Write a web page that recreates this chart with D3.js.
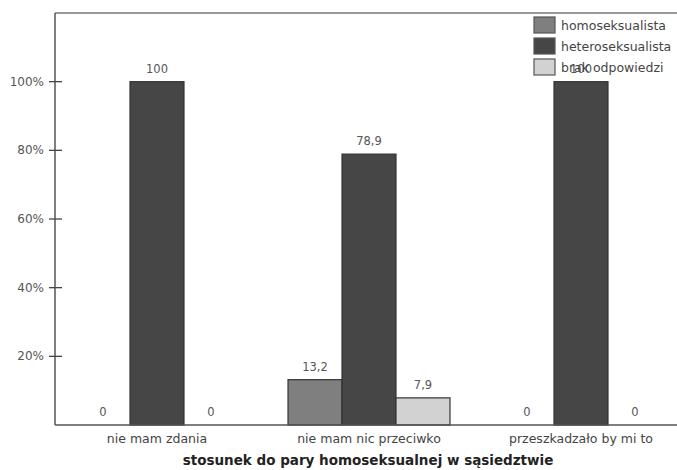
<!DOCTYPE html>
<html><head><meta charset="utf-8">
<script src="https://cdn.jsdelivr.net/npm/d3@7/dist/d3.min.js"></script>
<style>body{margin:0;background:#fff}svg{display:block}text{font-family:"DejaVu Sans",sans-serif}</style>
</head><body><svg id="c" width="677" height="470"></svg>
<script>
const categories = ["nie mam zdania", "nie mam nic przeciwko", "przeszkadzało by mi to"];
const seriesNames = ["homoseksualista", "heteroseksualista", "brak odpowiedzi"];
const homo = [0, 13.2, 0];
const hetero = [100, 78.9, 100];
const brak = [0, 7.9, 0];
const yTicks = [20, 40, 60, 80, 100];
const xTitle = "stosunek do pary homoseksualnej w sąsiedztwie";
const colors = ["#7f7f7f", "#464646", "#d2d2d2"];

const series = [homo, hetero, brak];
const svg = d3.select("#c");
const L = 55, T = 13, R = 677, B = 425;
const y = d3.scaleLinear().domain([0, 120]).range([B, T]);
const x0 = d3.scaleBand().domain(categories).range([51, 687]).paddingInner(0.236).paddingOuter(0.118);
const x1 = d3.scaleBand().domain(seriesNames).range([0, x0.bandwidth()]);
const fmt = v => String(v).replace(".", ",");

// bars
categories.forEach((c, ci) => {
  const g = svg.append("g").attr("transform", `translate(${x0(c)},0)`);
  seriesNames.forEach((s, si) => {
    const v = series[si][ci];
    if (v > 0) {
      g.append("rect").attr("x", x1(s)).attr("y", y(v)).attr("width", x1.bandwidth()).attr("height", y(0) - y(v))
        .attr("fill", colors[si]).attr("stroke", "#333").attr("stroke-width", 1.2);
    }
    g.append("text").attr("x", x1(s) + x1.bandwidth() / 2).attr("y", y(v) - 9)
      .attr("text-anchor", "middle").attr("font-size", 11.5).attr("fill", "#555").text(fmt(v));
  });
});

// frame
svg.append("line").attr("x1", L).attr("x2", R).attr("y1", T).attr("y2", T).attr("stroke", "#777").attr("stroke-width", 1.5);
svg.append("line").attr("x1", L).attr("x2", L).attr("y1", T).attr("y2", B).attr("stroke", "#555").attr("stroke-width", 1.5);
svg.append("line").attr("x1", L).attr("x2", R).attr("y1", B).attr("y2", B).attr("stroke", "#555").attr("stroke-width", 1.5);

// y axis
const ya = svg.append("g");
yTicks.forEach(t => {
  ya.append("line").attr("x1", L - 6).attr("x2", L + 7).attr("y1", y(t)).attr("y2", y(t)).attr("stroke", "#444").attr("stroke-width", 1.3);
  ya.append("text").attr("x", L - 11).attr("y", y(t) + 4).attr("text-anchor", "end").attr("font-size", 12).attr("fill", "#555").text(t + "%");
});

// x labels
categories.forEach(c => {
  svg.append("text").attr("x", x0(c) + x0.bandwidth() / 2).attr("y", 443).attr("text-anchor", "middle")
    .attr("font-size", 12.5).attr("fill", "#444").text(c);
});
svg.append("text").attr("x", 368).attr("y", 465).attr("text-anchor", "middle").attr("font-size", 13.5)
  .attr("font-weight", "bold").attr("fill", "#222").text(xTitle);

// legend
seriesNames.forEach((s, i) => {
  svg.append("rect").attr("x", 534).attr("y", 17 + i * 21).attr("width", 21).attr("height", 16)
    .attr("fill", colors[i]).attr("stroke", "#555").attr("stroke-width", 1.2);
  svg.append("text").attr("x", 561).attr("y", 30 + i * 21).attr("font-size", 12.5).attr("fill", "#444").text(s);
});
</script></body></html>
